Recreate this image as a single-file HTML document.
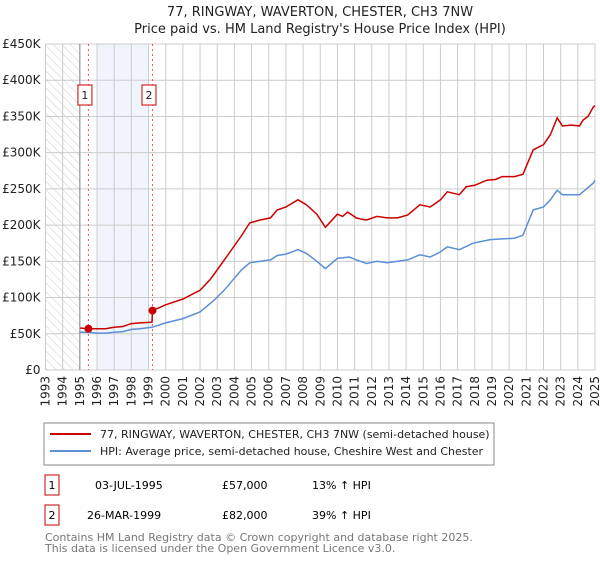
<!DOCTYPE html>
<html><head><meta charset="utf-8"><style>
body{margin:0;background:#fff;font-family:"DejaVu Sans","Liberation Sans",sans-serif;}
svg text{font-family:"DejaVu Sans","Liberation Sans",sans-serif;}
</style></head><body>
<svg id="c" width="600" height="560" viewBox="0 0 600 560" xmlns="http://www.w3.org/2000/svg">
<defs><pattern id="hatch" width="6" height="6" patternUnits="userSpaceOnUse" patternTransform="rotate(-45)"><line x1="0" y1="0" x2="0" y2="6" stroke="#ccc" stroke-width="1"/></pattern></defs>
<text x="320" y="16" text-anchor="middle" font-size="13" fill="#222">77, RINGWAY, WAVERTON, CHESTER, CH3 7NW</text>
<text x="320" y="33" text-anchor="middle" font-size="13" fill="#222">Price paid vs. HM Land Registry's House Price Index (HPI)</text>
<g id="plot"></g>
<rect x="44" y="423" width="450" height="42" fill="#fff" stroke="#888"/>
<line x1="50" y1="434" x2="91" y2="434" stroke="#cc0000" stroke-width="2"/>
<text x="100" y="438" font-size="11" fill="#222">77, RINGWAY, WAVERTON, CHESTER, CH3 7NW (semi-detached house)</text>
<line x1="50" y1="451" x2="91" y2="451" stroke="#5b8fd6" stroke-width="2"/>
<text x="100" y="455" font-size="11" fill="#222">HPI: Average price, semi-detached house, Cheshire West and Chester</text>
<g>
<rect x="45" y="475" width="14" height="20" fill="#fff" stroke="#cc0000"/><text x="52" y="489" text-anchor="middle" font-size="11">1</text>
<text x="95" y="489" font-size="11">03-JUL-1995</text><text x="222" y="489" font-size="11">£57,000</text><text x="312" y="489" font-size="11">13% ↑ HPI</text></g>
<g>
<rect x="45" y="505" width="14" height="20" fill="#fff" stroke="#cc0000"/><text x="52" y="519" text-anchor="middle" font-size="11">2</text>
<text x="87" y="519" font-size="11">26-MAR-1999</text><text x="222" y="519" font-size="11">£82,000</text><text x="312" y="519" font-size="11">39% ↑ HPI</text></g>
<text x="45" y="541" font-size="11" fill="#777">Contains HM Land Registry data © Crown copyright and database right 2025.</text>
<text x="45" y="552" font-size="11" fill="#777">This data is licensed under the Open Government Licence v3.0.</text>
</svg>
<script>
const yTicks=[0,50,100,150,200,250,300,350,400,450];
const yTickLabels=["£0","£50K","£100K","£150K","£200K","£250K","£300K","£350K","£400K","£450K"];
const years=[1993,1994,1995,1996,1997,1998,1999,2000,2001,2002,2003,2004,2005,2006,2007,2008,2009,2010,2011,2012,2013,2014,2015,2016,2017,2018,2019,2020,2021,2022,2023,2024,2025];
const redT=[1995.0,1995.5,1996.0,1996.5,1997.0,1997.5,1998.0,1998.5,1999.2,1999.23,2000.0,2001.0,2002.0,2002.6,2003.2,2003.8,2004.4,2004.9,2005.5,2006.1,2006.5,2007.0,2007.7,2008.2,2008.8,2009.3,2010.0,2010.3,2010.6,2011.1,2011.4,2011.7,2012.3,2012.9,2013.5,2014.1,2014.8,2015.4,2016.0,2016.4,2017.1,2017.5,2018.0,2018.7,2019.2,2019.6,2020.3,2020.8,2021.4,2022.0,2022.4,2022.8,2023.1,2023.6,2024.1,2024.3,2024.6,2024.9,2025.0];
const redV=[58,57,57,57,59,60,64,65,66,82,90,98,110,125,145,165,185,203,207,210,221,225,235,228,215,197,215,212,218,210,208,207,212,210,210,214,228,225,235,246,242,253,255,262,263,267,267,270,304,311,325,348,337,338,337,345,350,363,365];
const blueT=[1995.0,1995.5,1996.0,1996.5,1997.0,1997.5,1998.0,1998.5,1999.2,2000.0,2001.0,2002.0,2002.8,2003.4,2003.9,2004.4,2004.9,2005.5,2006.1,2006.5,2007.0,2007.7,2008.2,2008.8,2009.3,2010.0,2010.7,2011.1,2011.7,2012.3,2012.9,2013.5,2014.1,2014.8,2015.4,2016.0,2016.4,2017.1,2017.9,2018.9,2019.6,2020.3,2020.8,2021.4,2022.0,2022.4,2022.8,2023.1,2023.6,2024.1,2024.5,2024.9,2025.0];
const blueV=[52,52,51,51,52,53,56,57,59,65,71,80,96,110,124,138,148,150,152,158,160,166,161,150,140,154,156,152,147,150,148,150,152,159,156,163,170,166,175,180,181,182,186,221,225,235,248,242,242,242,250,258,262];
const sales=[{t:1995.5,v:57,n:"1"},{t:1999.23,v:82,n:"2"}];
const X0=45.5,X1=595,Y0=370,Y1=44;
const x=t=>X0+(t-1993)/(2025-1993)*(X1-X0);
const y=v=>Y0-v/450*(Y0-Y1);
const NS="http://www.w3.org/2000/svg",g=document.getElementById('plot');
function mk(tag,a,p){const e=document.createElementNS(NS,tag);for(const k in a)e.setAttribute(k,a[k]);(p||g).appendChild(e);return e;}
let e;
e=mk('rect',{x:x(1993),y:Y1,width:x(1995)-x(1993),height:Y0-Y1,fill:'url(#hatch)'});


e=mk('rect',{x:x(1996),y:Y1,width:x(1999)-x(1996),height:Y0-Y1,fill:'#f0f4fc'});


yTicks.forEach((v,i)=>{
 e=mk('line',{x1:X0,x2:X1,y1:y(v),y2:y(v),stroke:'#ccc'});
 
 
 e=mk('text',{x:X0-5,y:y(v)+4,'text-anchor':'end','font-size':12,fill:'#222'});e.textContent=yTickLabels[i];
 
 
});
years.forEach(yr=>{
 e=mk('line',{x1:x(yr),x2:x(yr),y1:Y1,y2:Y0,stroke:'#ccc'});
 
 
 const tx=x(yr)+4,ty=Y0+6;
 e=mk('text',{x:tx,y:ty,transform:`rotate(-90 ${tx} ${ty})`,'text-anchor':'end','font-size':12,fill:'#222'});e.textContent=yr;
 
 
});
e=mk('line',{x1:x(1995),x2:x(1995),y1:Y1,y2:Y0,stroke:'#888'});


sales.forEach(s=>{
 e=mk('line',{x1:x(s.t),x2:x(s.t),y1:Y1,y2:Y0,stroke:'#e55','stroke-dasharray':'2,3'});
 
 
});
function path(T,V){return T.map((t,i)=>(i?'L':'M')+x(t).toFixed(1)+','+y(V[i]).toFixed(1)).join('');}
e=mk('path',{d:path(blueT,blueV),fill:'none',stroke:'#5b8fd6','stroke-width':1.5});


e=mk('path',{d:path(redT,redV),fill:'none',stroke:'#cc0000','stroke-width':1.5});


sales.forEach(s=>{
 e=mk('circle',{cx:x(s.t),cy:y(s.v),r:4,fill:'#cc0000'});
 
 
 const bx=x(s.t)-3.5;
 e=mk('rect',{x:bx-7,y:85,width:14,height:20,fill:'#fff',stroke:'#cc0000'});
 
 
 e=mk('text',{x:bx,y:99,'text-anchor':'middle','font-size':11,fill:'#222'});e.textContent=s.n;
 
 
});
</script>
</body></html>
